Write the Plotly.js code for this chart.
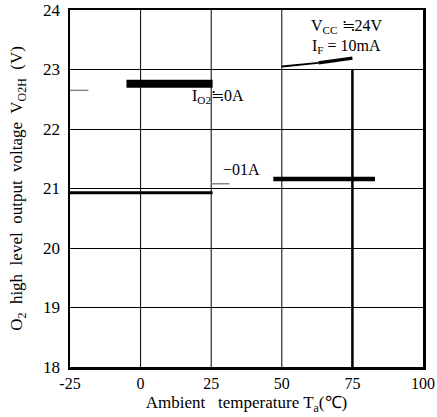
<!DOCTYPE html>
<html><head><meta charset="utf-8">
<script src="https://cdn.plot.ly/plotly-3.0.1.min.js"></script>
<style>html,body{margin:0;padding:0;background:#fff}</style>
</head><body><div id="chart" style="width:437px;height:417px"></div>
<script>
// ticks
const xTicks = [-25, 0, 25, 50, 75, 100];
const xTickText = ['-25', '0', '25', '50', '75', '100'];
const yTicks = [18, 19, 20, 21, 22, 23, 24];
const gridX = [0, 25, 50, 75];
const gridXTop = [24, 24, 24, 23];

// series
const io2ZeroX = [-5, 25.5];
const io2ZeroY = [22.76, 22.76];
const io2ZeroStubX = [-25, -18.5];
const io2ZeroStubY = [22.65, 22.65];
const lowX = [-25, 25.5];
const lowY = [20.93, 20.93];
const io2NegX = [47, 83];
const io2NegY = [21.16, 21.16];
const io2NegStubX = [25, 31.5];
const io2NegStubY = [21.08, 21.08];
const vccThinX = [50, 63];
const vccThinY = [23.05, 23.11];
const vccThickX = [63, 75];
const vccThickY = [23.11, 23.19];

const serif = 'Liberation Serif, Times New Roman, serif';
const black = '#000';
const grey = '#888';

function seg(x, y, w, c) {
  return {x: x, y: y, type: 'scatter', mode: 'lines', line: {color: c, width: w}, hoverinfo: 'skip', showlegend: false};
}

const traces = [
  seg(io2ZeroX, io2ZeroY, 8, black),
  seg(io2ZeroStubX, io2ZeroStubY, 1.5, grey),
  seg(lowX, lowY, 3, black),
  seg(io2NegX, io2NegY, 4.5, black),
  seg(io2NegStubX, io2NegStubY, 1.5, grey),
  seg(vccThinX, vccThinY, 1.8, black),
  seg(vccThickX, vccThickY, 3.2, black)
];

const shapes = gridX.map((gx, i) => ({
  type: 'line', xref: 'x', yref: 'y', layer: 'between',
  x0: gx, x1: gx, y0: 18, y1: gridXTop[i],
  line: {color: black, width: gx === 75 ? 2.5 : 1}
}));

const annotations = [
  {x: 73, y: 23.73, text: 'V<sub>CC</sub> ≒24V', showarrow: false, xref: 'x', yref: 'y', font: {family: serif, size: 16, color: black}},
  {x: 73, y: 23.39, text: 'I<sub>F</sub> = 10mA', showarrow: false, xref: 'x', yref: 'y', font: {family: serif, size: 16, color: black}},
  {x: 17.5, y: 22.55, xanchor: 'left', text: 'I<sub>O2</sub>≒0A', showarrow: false, xref: 'x', yref: 'y', font: {family: serif, size: 16, color: black}},
  {x: 28.5, y: 21.32, xanchor: 'left', text: '−01A', showarrow: false, xref: 'x', yref: 'y', font: {family: serif, size: 16, color: black}}
];

const layout = {
  width: 437, height: 417,
  margin: {l: 70, r: 14, t: 10, b: 50},
  paper_bgcolor: '#fff', plot_bgcolor: '#fff',
  showlegend: false,
  font: {family: serif, color: black},
  xaxis: {
    range: [-25, 100], tickvals: xTicks, ticktext: xTickText,
    showgrid: false, zeroline: false,
    showline: true, mirror: true, linecolor: black, linewidth: 2.5,
    ticks: '', ticklabelstandoff: 0,
    tickfont: {family: serif, size: 16, color: black},
    title: {text: 'Ambient   temperature T<sub>a</sub>(℃)', font: {family: serif, size: 17, color: black}, standoff: 6}
  },
  yaxis: {
    range: [18, 24], tickvals: yTicks,
    showgrid: true, gridcolor: black, gridwidth: 1, zeroline: false,
    showline: true, mirror: true, linecolor: black, linewidth: 2.5,
    ticks: '', ticklabelstandoff: 4,
    tickfont: {family: serif, size: 17, color: black},
    title: {text: 'O<sub>2</sub>  high  level  output  voltage  V<sub>O2H</sub>  (V)', font: {family: serif, size: 17, color: black}, standoff: 16}
  },
  shapes: shapes,
  annotations: annotations
};

Plotly.newPlot('chart', traces, layout, {staticPlot: true, displayModeBar: false});
</script></body></html>
